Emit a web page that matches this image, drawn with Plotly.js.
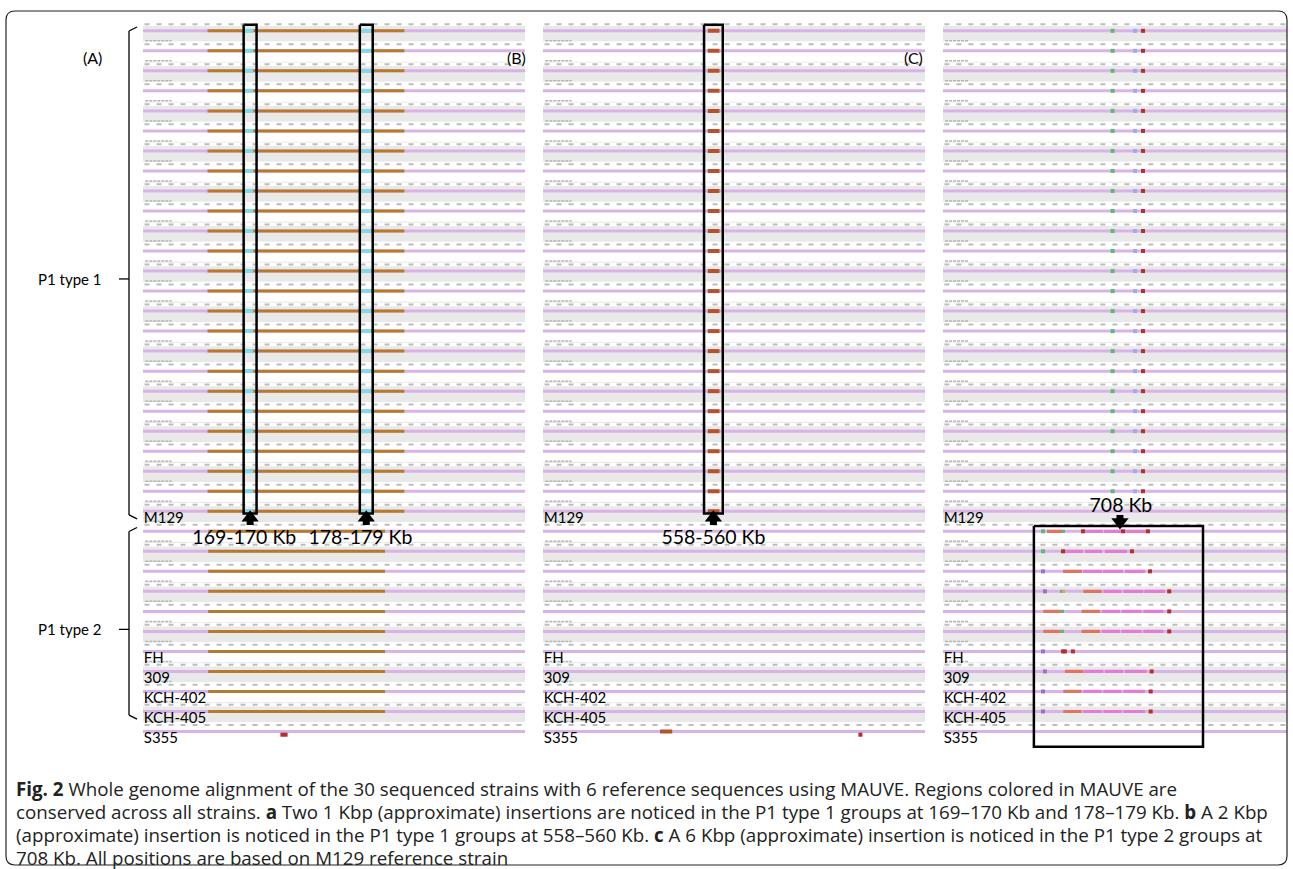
<!DOCTYPE html>
<html><head><meta charset="utf-8">
<script src="https://cdn.plot.ly/plotly-3.0.1.min.js"></script>
<style>html,body{margin:0;padding:0;background:#fff}#chart{width:1293px;height:869px}</style>
</head><body><div id="chart"></div>
<script>
// ---------------- data ----------------
const nRows = 36;                        // 30 sequenced strains + 6 references
const refLabels = ['M129','FH','309','KCH-402','KCH-405','S355'];
const refRows   = [24, 31, 32, 33, 34, 35];
const groupLabels   = ['P1 type 1','P1 type 2'];
const groupFirstRow = [0, 25];
const groupLastRow  = [24, 34];
const panelLetters  = ['(A)','(B)','(C)'];

// Panel A (Kb)
const aRange        = [161.2, 190.8];
const aBlockType1   = [166.2, 181.45];
const aBlockType2   = [166.25, 179.95];
const aInsertStart  = [169.05, 178.05];
const aInsertEnd    = [169.75, 178.9];
const aBoxStart     = [169, 178];
const aBoxEnd       = [170, 179];
const aBoxLabels    = ['169-170 Kb','178-179 Kb'];
const aS355Marks    = [172.0, 172.25];

// Panel B (Kb)
const bRange        = [540.8, 581.6];
const bInsert       = [558.4, 559.65];
const bBoxStart     = [558];
const bBoxEnd       = [560];
const bBoxLabels    = ['558-560 Kb'];
const bS355Block    = [553.3, 554.6];
const bS355Marks    = [574.7];

// Panel C (Kb)
const cRange        = [696.94, 718.44];
const cBoxStart     = [702.62];
const cBoxEnd       = [713.19];
const cBoxLabels    = ['708 Kb'];
const cArrowPos     = [708];
const cType1MarkPos  = [707.54, 708.94, 709.44];
const cType1MarkKind = ['green','blue','red'];
const cSegRow   = [25,25,25,25,25, 26,26,26, 27,27,27,27, 28,28,28,28,28,28, 29,29,29,29,29,29, 30,30,30,30,30,30, 32,32,32,32, 33,33,33,33, 34,34,34,34];
const cSegStart = [703.44,704.38,705.75,707.0,708.31, 704.56,705.81,707.06, 704.44,705.69,706.94,708.31, 704.25,704.4,705.71,706.96,708.21,709.52, 703.21,704.3,705.6,706.86,708.1,709.46, 703.21,704.3,705.6,706.86,708.1,709.46, 704.56,705.75,707.06,708.31, 704.46,705.71,706.96,708.21, 704.46,705.71,706.96,708.21];
const cSegEnd   = [704.38,704.56,706.94,708.13,709.69, 705.69,706.88,708.44, 705.63,706.88,708.19,709.56, 704.4,704.56,706.86,708.1,709.46,710.81, 704.3,704.5,706.75,708.0,709.35,710.71, 704.3,704.5,706.75,708.0,709.35,710.71, 705.71,706.96,708.21,709.67, 705.6,706.86,708.1,709.56, 705.6,706.86,708.1,709.56];
const cSegKind  = ['salmon','green','pink','pink','pink', 'pink','pink','pink', 'salmon','pink','pink','pink', 'green','orange','salmon','pink','pink','pink', 'salmon','green','salmon','pink','pink','pink', 'salmon','green','salmon','pink','pink','pink', 'salmon','pink','pink','pink', 'salmon','pink','pink','pink', 'salmon','pink','pink','pink'];
const cMarkRow  = [25,25,25,25, 26,26,26, 27,27, 28,28, 29, 30, 31,31,31,31, 32,32, 33,33, 34,34];
const cMarkPos  = [703.19,705.69,708.19,709.75, 703.19,704.44,708.75, 703.19,709.88, 703.31,711.08, 711.08, 711.08, 703.19,704.44,704.56,705.06, 703.31,709.98, 703.19,709.92, 703.19,709.92];
const cMarkKind = ['green','red','red','red', 'green','red','red', 'purple','red', 'purple','red', 'red', 'red', 'purple','red','red','red', 'purple','red', 'purple','red', 'purple','red'];

// ---------------- styles ----------------
const COL = {gray:'#e9e9e9', purple:'#d9b3e8', brown:'#b77a2c', cyan:'#84d8e8', rust:'#b5512c',
  pink:'#e67ad8', salmon:'#e2735f', green:'#5bb97a', orange:'#e0a050', red:'#b3312b', blue:'#a8a8e8', mpurple:'#a070c8'};
const kindColor = k => ({pink:COL.pink, salmon:COL.salmon, green:COL.green, orange:COL.orange, red:COL.red, blue:COL.blue, purple:COL.mpurple}[k]);
const W = 1293, H = 869;
const rows = Array.from({length:nRows}, (_, i) => i);
const yTop = -0.35, yBot = 36.2;           // y axis range in row units
const pxPerRow = 20.02, row0px = 30;
const yDomTop = row0px + pxPerRow*yTop, yDomBot = row0px + pxPerRow*yBot;
const FONT = 'Lato, "Open Sans", sans-serif';
const CAPFONT = '"Open Sans", Lato, sans-serif';

const traces = [];
const base = {hoverinfo:'skip', showlegend:false};
function hbar(xa, ys, starts, ends, color, width){
  traces.push(Object.assign({type:'bar', orientation:'h', xaxis:xa, yaxis:'y',
    y:ys, base:starts, x:starts.map((s,k)=>ends[k]-s), width:ys.map(()=>width),
    marker:{color:color, line:{width:0}}}, base));
}
function marks(xa, xs, ys, colors, size, symbol){
  traces.push(Object.assign({type:'scatter', mode:'markers', xaxis:xa, yaxis:'y', x:xs, y:ys, cliponaxis:false,
    marker:{color:colors, size:size, symbol:symbol||'square', line:{width:0}}}, base));
}
function lines(xa, xs, ys, color, width, dash){
  traces.push(Object.assign({type:'scatter', mode:'lines', xaxis:xa, yaxis:'y', x:xs, y:ys,
    line:{color:color, width:width, dash:dash||'solid'}}, base));
}
function texts(xa, xs, ys, txt, size, pos){
  traces.push(Object.assign({type:'scatter', mode:'text', xaxis:xa, yaxis:'y', x:xs, y:ys, text:txt, cliponaxis:false,
    textposition:pos||'middle center', textfont:{family:FONT, size:size, color:'#000'}}, base));
}

const panels = [{xa:'x', range:aRange}, {xa:'x2', range:bRange}, {xa:'x3', range:cRange}];
panels.forEach(p => {
  const s = p.range[0], e = p.range[1], span = e - s;
  // alternating background bands
  hbar(p.xa, rows.map(i=>i+0.08), rows.map(()=>s), rows.map(()=>e), rows.map(i=>i%2===0?COL.gray:'#ffffff'), 1.0);
  // ruler strip
  hbar(p.xa, rows.map(i=>i-0.29), rows.map(()=>s), rows.map(()=>e), '#ffffff', 0.17);
  const rx=[], ry=[], nx=[], ny=[];
  rows.forEach(i=>{ rx.push(s+span*0.004, e, null); ry.push(i-0.29, i-0.29, null);
                    nx.push(s+span*0.006, s+span*0.075, null); ny.push(i-0.46, i-0.46, null); });
  lines(p.xa, rx, ry, '#bdbdbd', 2, '5px,7px');
  lines(p.xa, nx, ny, '#b5b5b5', 1.5, '3px,1px');
  // genome bar
  hbar(p.xa, rows.map(i=>i+0.04), rows.map(()=>s), rows.map(()=>e), COL.purple, 0.15);
  // left-side icons
  marks(p.xa, rows.map(()=>s-span*0.004), rows.map(i=>i+0.33), '#b9483a', 3);
  marks(p.xa, rows.map(()=>s-span*0.004), rows.map(i=>i+0.52), '#9a9a9a', 2.5);
});

// ---- Panel A ----
const t1 = rows.filter(i => i>=groupFirstRow[0] && i<=groupLastRow[0]);
const t2 = rows.filter(i => i>=groupFirstRow[1] && i<=groupLastRow[1]);
hbar('x', t1.map(i=>i+0.04), t1.map(()=>aBlockType1[0]), t1.map(()=>aBlockType1[1]), COL.brown, 0.15);
aInsertStart.forEach((st,k)=> hbar('x', t1.map(i=>i+0.04), t1.map(()=>st), t1.map(()=>aInsertEnd[k]), COL.cyan, 0.2));
hbar('x', t2.map(i=>i+0.04), t2.map(()=>aBlockType2[0]), t2.map(()=>aBlockType2[1]), COL.brown, 0.15);
marks('x', aS355Marks, aS355Marks.map(()=>35.2), COL.red, 4);

// ---- Panel B ----
hbar('x2', t1.map(i=>i+0.04), t1.map(()=>bInsert[0]), t1.map(()=>bInsert[1]), COL.rust, 0.2);
hbar('x2', [35.04], [bS355Block[0]], [bS355Block[1]], COL.rust, 0.2);
marks('x2', bS355Marks, [35.2], COL.red, 4);

// ---- Panel C ----
const t1c = t1.filter(i => i !== refRows[0]);
cType1MarkPos.forEach((pos,k)=> marks('x3', t1c.map(()=>pos), t1c.map(i=>i+0.04), kindColor(cType1MarkKind[k]), 4));
hbar('x3', cSegRow.map(r=>r+0.04), cSegStart, cSegEnd, cSegKind.map(kindColor), 0.16);
marks('x3', cMarkPos, cMarkRow.map(r=>r+0.04), cMarkKind.map(kindColor), 4);

// ---- boxes ----
function boxes(xa, starts, ends, top, bottom){
  const bx=[], by=[];
  starts.forEach((s,k)=>{ bx.push(s, ends[k], ends[k], s, s, null); by.push(top, top, bottom, bottom, top, null); });
  lines(xa, bx, by, '#000', 2.5);
}
boxes('x', aBoxStart, aBoxEnd, -0.26, groupLastRow[0]+0.15);
boxes('x2', bBoxStart, bBoxEnd, -0.26, groupLastRow[0]+0.15);
boxes('x3', cBoxStart, cBoxEnd, groupFirstRow[1]-0.22, nRows-1+0.8);

// ---- arrows & labels ----
function upArrows(xa, centers){
  marks(xa, centers, centers.map(()=>24.36), '#000', 15, 'triangle-up');
  const sx=[], sy=[]; centers.forEach(c=>{ sx.push(c,c,null); sy.push(24.45, 24.72, null); });
  lines(xa, sx, sy, '#000', 7);
}
const aCenters = aBoxStart.map((s,k)=>(s+aBoxEnd[k])/2);
const bCenters = bBoxStart.map((s,k)=>(s+bBoxEnd[k])/2);
upArrows('x', aCenters);
upArrows('x2', bCenters);
texts('x', aCenters.map(c=>c-0.45), aCenters.map(()=>25.42), aBoxLabels, 19.5);
texts('x2', bCenters, [25.42], bBoxLabels, 19.5);
// panel C down arrow
lines('x3', [cArrowPos[0], cArrowPos[0]], [24.22, 24.42], '#000', 7);
marks('x3', cArrowPos, [24.58], '#000', 15, 'triangle-down');
texts('x3', cArrowPos.map(c=>c+0.06), [23.83], cBoxLabels, 19.5);

// reference strain names
panels.forEach(p => {
  const span = p.range[1]-p.range[0];
  texts(p.xa, refRows.map(()=>p.range[0]+span*0.002), refRows.map(r=>r+0.42), refLabels, 15, 'middle right');
});

// ---------------- layout ----------------
const ax = (d, r) => ({domain:d, range:r, visible:false, fixedrange:true, anchor:'y'});
const shapes = [];
const annotations = [];
const px = v => v / W;
// brackets
groupLabels.forEach((g,k)=>{
  const top = groupFirstRow[k] - 0.15, bot = groupLastRow[k] + 0.42, mid = (top+bot)/2 + 0.3;
  const L = {type:'line', xref:'paper', yref:'y', line:{color:'#000', width:1.3}};
  shapes.push(Object.assign({x0:px(129), x1:px(129), y0:top+0.2, y1:bot-0.2}, L));
  shapes.push(Object.assign({x0:px(129), x1:px(137), y0:top+0.2, y1:top}, L));
  shapes.push(Object.assign({x0:px(129), x1:px(137), y0:bot-0.2, y1:bot}, L));
  shapes.push(Object.assign({x0:px(119), x1:px(129), y0:mid, y1:mid}, L));
  annotations.push({xref:'paper', yref:'y', x:px(70), y:mid, text:g, showarrow:false,
    font:{family:FONT, size:15, color:'#000'}, xanchor:'center', yanchor:'middle'});
});
// panel letters
[92, 516, 913].forEach((xp,k)=> annotations.push({xref:'paper', yref:'paper', x:px(xp), y:1-58/H, text:panelLetters[k],
  showarrow:false, font:{family:FONT, size:16, color:'#000'}, xanchor:'center', yanchor:'middle'}));
// caption
const captionLines = [
  '<b>Fig. 2</b> Whole genome alignment of the 30 sequenced strains with 6 reference sequences using MAUVE. Regions colored in MAUVE are',
  'conserved across all strains. <b>a</b> Two 1 Kbp (approximate) insertions are noticed in the P1 type 1 groups at 169–170 Kb and 178–179 Kb. <b>b</b> A 2 Kbp',
  '(approximate) insertion is noticed in the P1 type 1 groups at 558–560 Kb. <b>c</b> A 6 Kbp (approximate) insertion is noticed in the P1 type 2 groups at',
  '708 Kb. All positions are based on M129 reference strain'];
captionLines.forEach((t,k)=> annotations.push({xref:'paper', yref:'paper', x:px(14), y:1-(788+23*k)/H, text:t,
  showarrow:false, font:{family:CAPFONT, size:18.75, color:'#222'}, xanchor:'left', yanchor:'middle', align:'left'}));
// rounded border
(function(){
  const x0=6, x1=1287, y0=11, y1=865, r=9;
  const X=v=>v/W, Y=v=>1-v/H;
  const path = `M ${X(x0+r)},${Y(y0)} L ${X(x1-r)},${Y(y0)} Q ${X(x1)},${Y(y0)} ${X(x1)},${Y(y0+r)} L ${X(x1)},${Y(y1-r)} Q ${X(x1)},${Y(y1)} ${X(x1-r)},${Y(y1)} L ${X(x0+r)},${Y(y1)} Q ${X(x0)},${Y(y1)} ${X(x0)},${Y(y1-r)} L ${X(x0)},${Y(y0+r)} Q ${X(x0)},${Y(y0)} ${X(x0+r)},${Y(y0)} Z`;
  shapes.push({type:'path', xref:'paper', yref:'paper', path:path, line:{color:'#222', width:1.2}, layer:'above'});
})();

const layout = {
  width:W, height:H, margin:{l:0,r:0,t:0,b:0}, paper_bgcolor:'#fff', plot_bgcolor:'rgba(0,0,0,0)',
  showlegend:false, barmode:'overlay', hovermode:false,
  xaxis:  ax([143/W, 525/W], aRange),
  xaxis2: ax([543/W, 925/W], bRange),
  xaxis3: ax([943/W, 1287/W], cRange),
  yaxis: {domain:[1-yDomBot/H, 1-yDomTop/H], range:[yBot, yTop], visible:false, fixedrange:true},
  shapes:shapes, annotations:annotations
};
Plotly.newPlot('chart', traces, layout, {staticPlot:true, displayModeBar:false});
</script></body></html>
